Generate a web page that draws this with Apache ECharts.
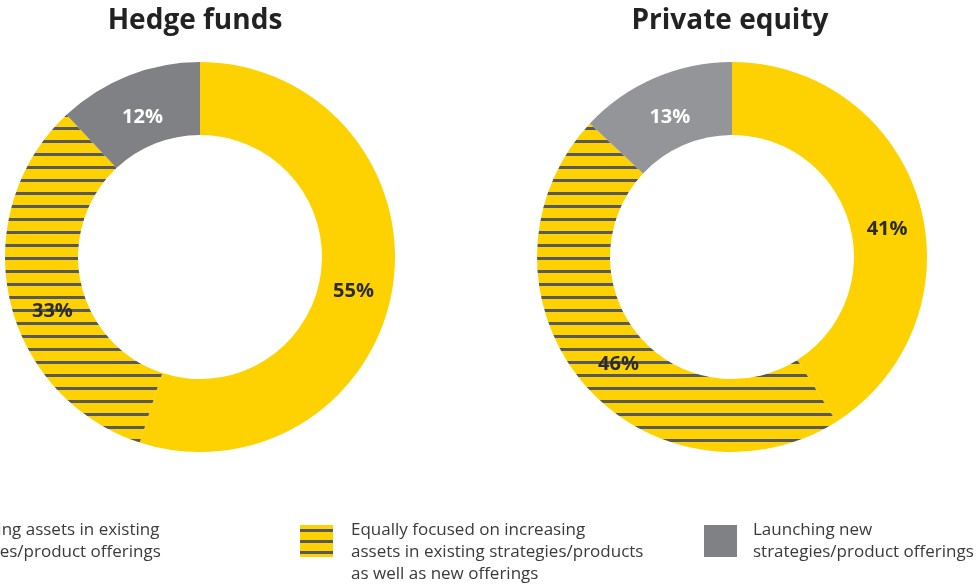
<!DOCTYPE html>
<html>
<head>
<meta charset="utf-8">
<style>
  html, body { margin: 0; padding: 0; background: #fff; }
  #chart { width: 977px; height: 584px; }
</style>
<script src="https://cdn.jsdelivr.net/npm/echarts@6/dist/echarts.min.js"></script>
</head>
<body>
<div id="chart"></div>
<script>
// categories as they read in the legend (line breaks kept)
var categories = [
  'Increasing assets in existing\nstrategies/product offerings',
  'Equally focused on increasing\nassets in existing strategies/products\nas well as new offerings',
  'Launching new\nstrategies/product offerings'
]
var hedgeFunds = [55, 33, 12]
var privateEquity = [41, 46, 13]
var titles = ['Hedge funds', 'Private equity']

var YELLOW = '#fdd200'
var STRIPE = '#58595b'

// yellow with horizontal dark stripes
function stripePattern (period, from) {
  var c = document.createElement('canvas')
  c.width = 8
  c.height = period
  var ctx = c.getContext('2d')
  ctx.fillStyle = YELLOW
  ctx.fillRect(0, 0, 8, period)
  ctx.fillStyle = STRIPE
  ctx.fillRect(0, from, 8, 3)
  return { image: c, repeat: 'repeat' }
}
var hatch = stripePattern(13, 10)
var hatchIcon = stripePattern(11, 4)

// small label nudges so they sit like the original
var labelNudge = {
  hedge: [[-6, 9], [10, 19], [2, 10]],
  pe: [[0, 17], [11, 4], [2, 9]]
}

function buildData (values, grey, nudge) {
  var colors = [YELLOW, hatch, grey]
  var labelColors = ['#2b2b2b', '#2b2b2b', '#ffffff']
  return values.map(function (v, i) {
    return {
      name: categories[i],
      value: v,
      itemStyle: { color: colors[i] },
      label: { color: labelColors[i], offset: nudge[i] }
    }
  })
}

function pie (center, values, grey, nudge) {
  return {
    type: 'pie',
    center: center,
    radius: [122, 195],
    startAngle: 90,
    clockwise: true,
    animation: false,
    silent: true,
    avoidLabelOverlap: false,
    label: {
      show: true,
      position: 'inside',
      formatter: '{c}%',
      fontFamily: 'Open Sans',
      fontWeight: 'bold',
      fontSize: 20
    },
    labelLine: { show: false },
    data: buildData(values, grey, nudge)
  }
}

function legend (item, left, top, gap, formatter) {
  return {
    data: [item],
    left: left,
    top: top,
    padding: 0,
    itemWidth: 33,
    itemHeight: 32,
    selectedMode: false,
    icon: 'rect',
    formatter: formatter || '{name}',
    textStyle: {
      fontFamily: 'Open Sans',
      fontSize: 17,
      lineHeight: 22,
      color: '#3a3a3a',
      padding: [0, 0, 0, gap]
    }
  }
}

var chart = echarts.init(document.getElementById('chart'))
chart.setOption({
  backgroundColor: '#ffffff',
  title: [
    { text: titles[0], left: 195, top: 7, padding: 0, textAlign: 'center',
      textStyle: { fontFamily: 'Open Sans', fontWeight: 'bold', fontSize: 28, color: '#222' } },
    { text: titles[1], left: 730, top: 7, padding: 0, textAlign: 'center',
      textStyle: { fontFamily: 'Open Sans', fontWeight: 'bold', fontSize: 28, color: '#222' } }
  ],
  legend: [
    legend(categories[0], -111, 519, 13),
    // blank first line keeps the three lines top-aligned with the swatch
    legend({ name: categories[1], itemStyle: { color: hatchIcon } }, 300, 497, 13,
      function (n) { return '\n' + n }),
    legend(categories[2], 704, 519, 11)
  ],
  series: [
    pie([200, 257], hedgeFunds, '#808184', labelNudge.hedge),
    pie([732, 257], privateEquity, '#939598', labelNudge.pe)
  ]
})
</script>
</body>
</html>
